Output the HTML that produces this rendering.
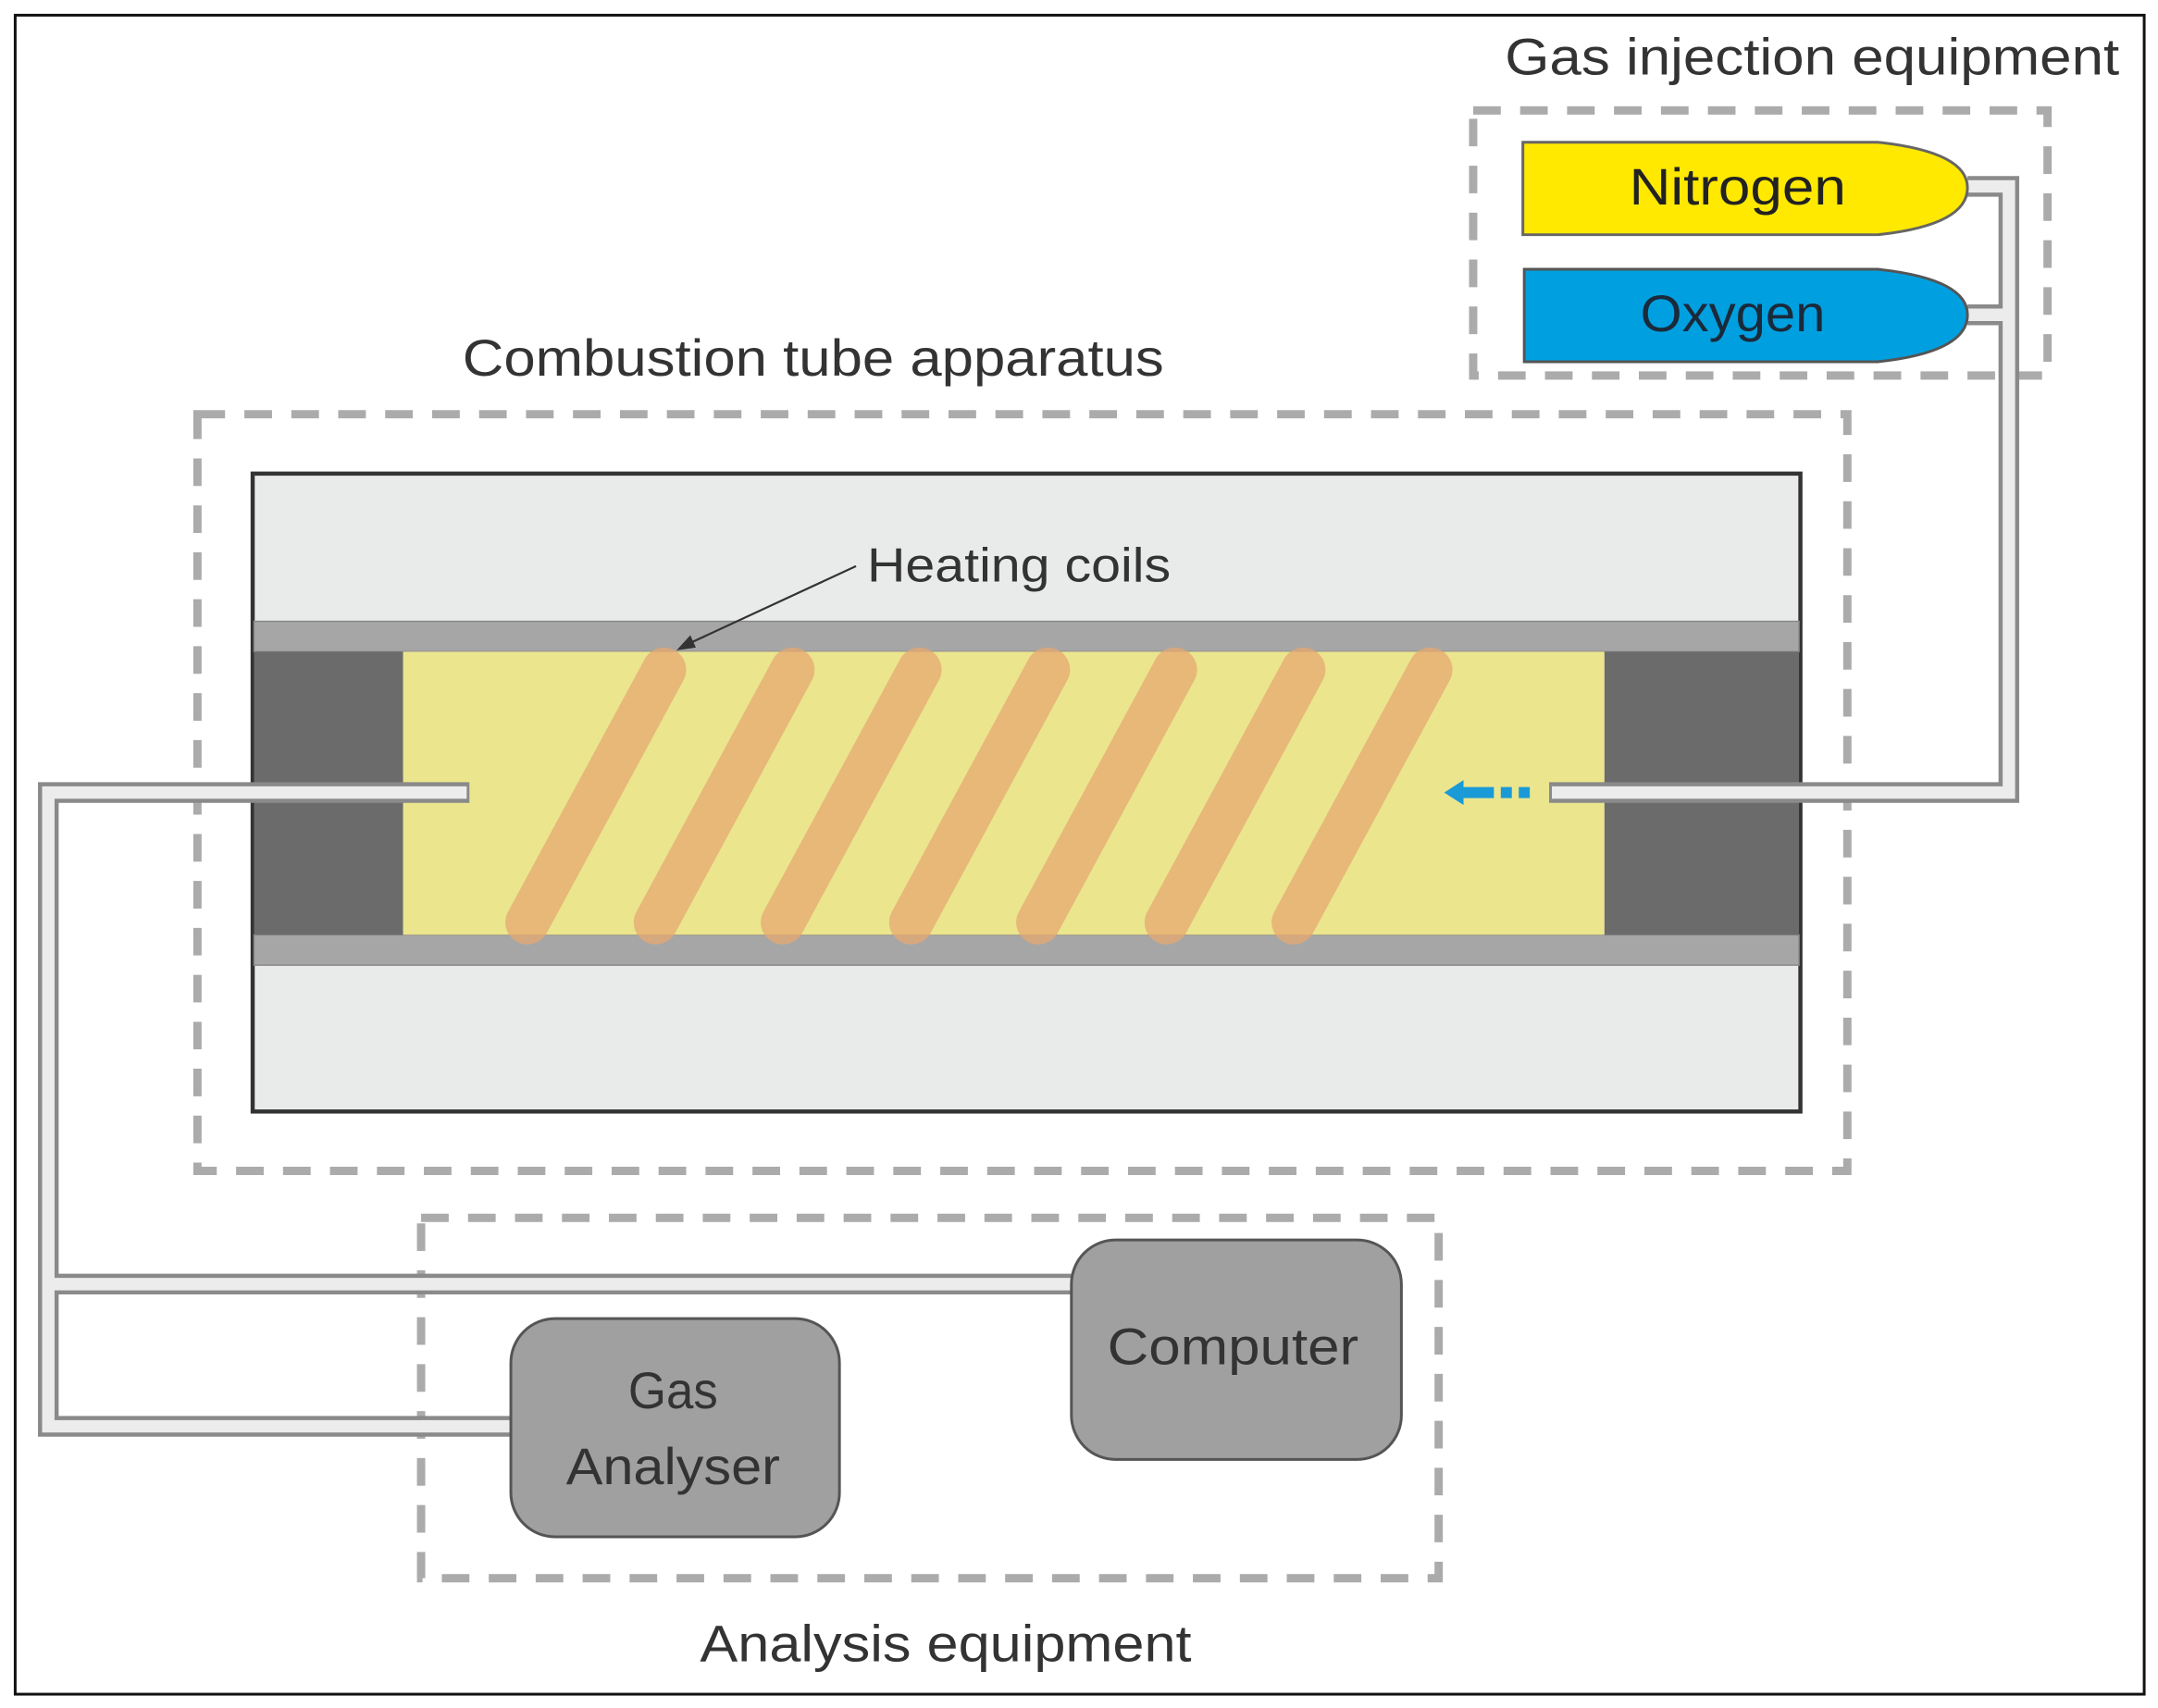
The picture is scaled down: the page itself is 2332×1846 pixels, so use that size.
<!DOCTYPE html>
<html><head><meta charset="utf-8"><style>
html,body{margin:0;padding:0;background:#fff;}
svg{display:block;}
text{font-family:"Liberation Sans",sans-serif;}
</style></head><body>
<svg width="2332" height="1846" viewBox="0 0 1563 1237" preserveAspectRatio="none" xmlns="http://www.w3.org/2000/svg">
<rect x="0" y="0" width="1563" height="1237" fill="#fff"/>
<rect x="11" y="11" width="1542" height="1216" fill="none" stroke="#111" stroke-width="2"/>

<!-- dashed boxes -->
<g fill="none" stroke="#ababab" stroke-width="6" stroke-dasharray="20 14">
<rect x="1067" y="80" width="416" height="192"/>
<rect x="143" y="300" width="1195" height="548"/>
<rect x="305" y="882" width="737" height="261"/>
</g>

<!-- labels -->
<g fill="#333" font-size="37">
<text x="1090" y="54" textLength="445" lengthAdjust="spacingAndGlyphs">Gas injection equipment</text>
<text x="335" y="272" textLength="508" lengthAdjust="spacingAndGlyphs">Combustion tube apparatus</text>
<text x="507" y="1203" textLength="356" lengthAdjust="spacingAndGlyphs">Analysis equipment</text>
</g>

<!-- tube -->
<rect x="183" y="343" width="1121" height="462" fill="#e9eaea" stroke="#333" stroke-width="3"/>
<rect x="184" y="450" width="1119" height="22" fill="#a6a6a6" stroke="#888" stroke-width="1"/>
<rect x="184" y="677" width="1119" height="22" fill="#a6a6a6" stroke="#888" stroke-width="1"/>
<rect x="184" y="472" width="108" height="205" fill="#6b6b6b"/>
<rect x="1162" y="472" width="141" height="205" fill="#6b6b6b"/>
<rect x="292" y="472" width="870" height="205" fill="#ebe58e"/>
<g stroke="#e6a870" stroke-opacity="0.75" stroke-width="32" stroke-linecap="round">
<line x1="382" y1="668" x2="481" y2="485"/>
<line x1="475" y1="668" x2="574" y2="485"/>
<line x1="567" y1="668" x2="666" y2="485"/>
<line x1="660" y1="668" x2="759" y2="485"/>
<line x1="752" y1="668" x2="851" y2="485"/>
<line x1="845" y1="668" x2="944" y2="485"/>
<line x1="937" y1="668" x2="1036" y2="485"/>
</g>

<!-- heating coils label -->
<line x1="620" y1="410" x2="497" y2="467" stroke="#333" stroke-width="1.5"/>
<polygon points="490,471 500,460 504,469" fill="#333"/>
<text x="628" y="421" font-size="35" fill="#333" textLength="220" lengthAdjust="spacingAndGlyphs">Heating coils</text>

<!-- pipes -->
<g fill="none" stroke-linejoin="miter">
<path d="M340,574 L35,574 L35,1033 L370,1033 M35,930 L776,930" stroke="#8a8a8a" stroke-width="15"/>
<path d="M338,574 L35,574 L35,1033 L370,1033 M35,930 L776,930" stroke="#ececec" stroke-width="9"/>
<path d="M1122,574 L1455,574 L1455,135 L1425,135 M1455,228 L1425,228" stroke="#8a8a8a" stroke-width="15"/>
<path d="M1124,574 L1455,574 L1455,135 L1425,135 M1455,228 L1425,228" stroke="#ececec" stroke-width="9"/>
</g>

<!-- blue arrow -->
<g fill="#1a9ad6">
<polygon points="1046,574 1060,565 1060,583"/>
<rect x="1060" y="570" width="22" height="8"/>
<rect x="1087" y="570" width="8" height="8"/>
<rect x="1100" y="570" width="8" height="8"/>
</g>

<!-- cylinders -->
<path d="M1103,103 H1360 Q1425,110 1425,136 Q1425,163 1360,170 H1103 Z" fill="#ffe900" stroke="#666" stroke-width="2"/>
<path d="M1104,195 H1360 Q1425,202 1425,228 Q1425,255 1360,262 H1104 Z" fill="#00a0e0" stroke="#555" stroke-width="2"/>
<text x="1180" y="148" font-size="37" fill="#222" textLength="157" lengthAdjust="spacingAndGlyphs">Nitrogen</text>
<text x="1188" y="240" font-size="37" fill="#1a2a3a" textLength="134" lengthAdjust="spacingAndGlyphs">Oxygen</text>

<!-- boxes -->
<rect x="370" y="955" width="238" height="158" rx="32" fill="#a0a0a0" stroke="#555" stroke-width="2"/>
<rect x="776" y="898" width="239" height="159" rx="32" fill="#a0a0a0" stroke="#555" stroke-width="2"/>
<g font-size="37" fill="#333">
<text x="455" y="1020" textLength="65" lengthAdjust="spacingAndGlyphs">Gas</text>
<text x="410" y="1075" textLength="155" lengthAdjust="spacingAndGlyphs">Analyser</text>
<text x="802" y="988" textLength="182" lengthAdjust="spacingAndGlyphs">Computer</text>
</g>
</svg>
</body></html>
